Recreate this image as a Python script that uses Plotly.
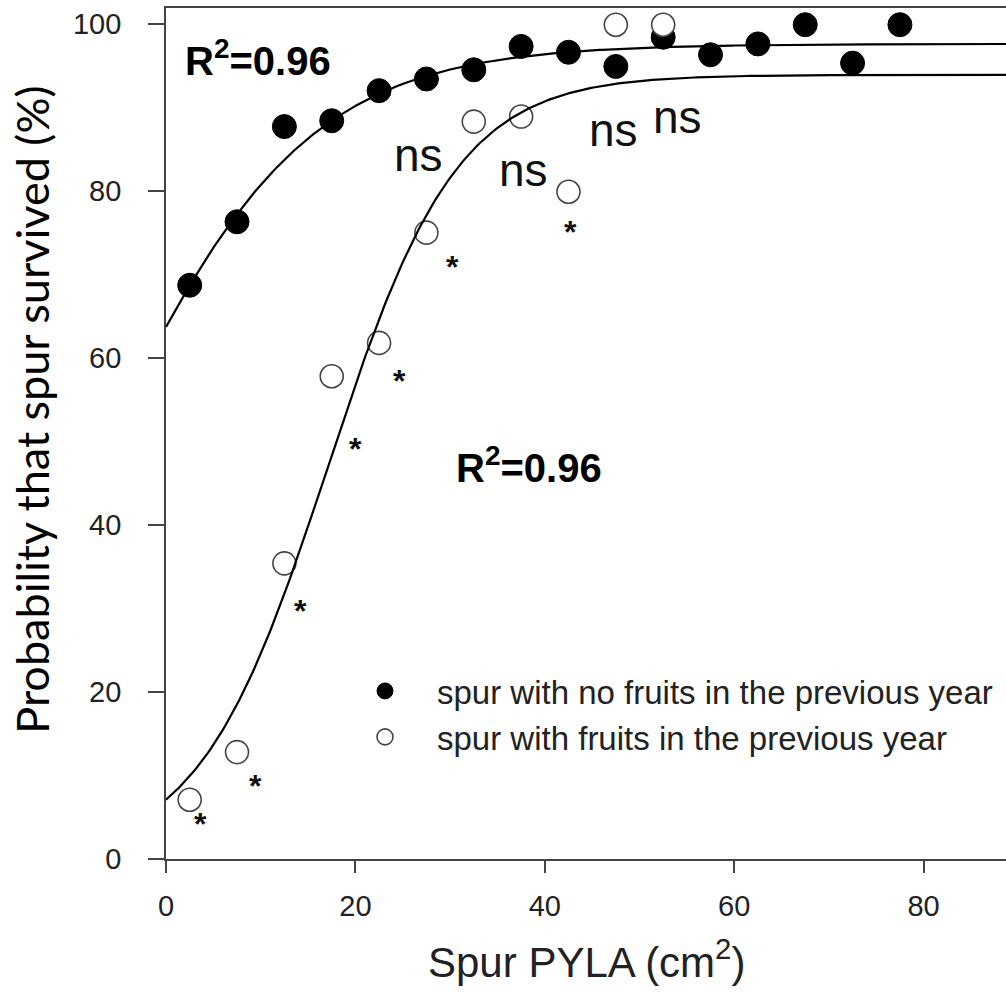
import numpy as np
import plotly.graph_objects as go

# ---- data ----
pyla_no_fruit = [2.5, 7.5, 12.5, 17.5, 22.5, 27.5, 32.5, 37.5, 42.5, 47.5, 52.5, 57.5, 62.5, 67.5, 72.5, 77.5]
surv_no_fruit = [68.7, 76.3, 87.7, 88.4, 92.0, 93.4, 94.5, 97.3, 96.6, 94.9, 98.4, 96.3, 97.6, 99.9, 95.3, 99.9]

pyla_fruit = [2.5, 7.5, 12.5, 17.5, 22.5, 27.5, 32.5, 37.5, 42.5, 47.5, 52.5]
surv_fruit = [7.1, 12.8, 35.4, 57.8, 61.8, 75.0, 88.3, 88.9, 79.9, 99.9, 99.9]

# fitted sigmoid parameters (a / (1 + exp(-(x - x0) / b)))
fit_no_fruit = dict(a=97.6, x0=-6.77, b=10.72)
fit_fruit = dict(a=93.9, x0=17.09, b=6.83)

r2_labels = ["R<sup>2</sup>=0.96", "R<sup>2</sup>=0.96"]
r2_pos = [(9.7, 95.9), (38.3, 47.2)]

sig_text = ["*", "*", "*", "*", "*", "*", "*", "ns", "ns", "ns", "ns"]
sig_pos = [(3.6, 4.7), (9.4, 9.2), (14.2, 30.2), (20.0, 49.6), (24.7, 57.7), (30.2, 71.4),
           (42.7, 75.6), (26.7, 84.3), (37.7, 82.5), (47.3, 87.3), (54.0, 88.9)]

x_ticks = [0, 20, 40, 60, 80]
y_ticks = [0, 20, 40, 60, 80, 100]
x_range = [0, 88.7]
y_range = [0, 101.9]

legend_names = ["spur with no fruits in the previous year", "spur with fruits in the previous year"]


def sigmoid(x, a, x0, b):
    return a / (1.0 + np.exp(-(x - x0) / b))


xs = np.linspace(x_range[0], x_range[1], 400)

ARIAL = "Liberation Sans"
fig = go.Figure()

fig.add_trace(go.Scatter(
    x=pyla_no_fruit, y=surv_no_fruit, mode="markers", name=legend_names[0],
    marker=dict(symbol="circle", size=24, color="black", line=dict(color="black", width=1)),
    cliponaxis=False))
fig.add_trace(go.Scatter(
    x=pyla_fruit, y=surv_fruit, mode="markers", name=legend_names[1],
    marker=dict(symbol="circle", size=23, color="white", line=dict(color="#444444", width=1.6)),
    cliponaxis=False))
fig.add_trace(go.Scatter(
    x=xs, y=sigmoid(xs, **fit_no_fruit), mode="lines", showlegend=False,
    line=dict(color="black", width=2.2)))
fig.add_trace(go.Scatter(
    x=xs, y=sigmoid(xs, **fit_fruit), mode="lines", showlegend=False,
    line=dict(color="black", width=2.2)))

annotations = []
for t, (x, y) in zip(r2_labels, r2_pos):
    annotations.append(dict(x=x, y=y, xref="x", yref="y", text="<b>" + t + "</b>", showarrow=False,
                            font=dict(family=ARIAL, size=40, color="black"),
                            xanchor="center", yanchor="middle"))
for t, (x, y) in zip(sig_text, sig_pos):
    if t == "ns":
        annotations.append(dict(x=x, y=y, xref="x", yref="y", text=t, showarrow=False,
                                font=dict(family=ARIAL, size=46, color="#111111"),
                                xanchor="center", yanchor="middle"))
    else:
        annotations.append(dict(x=x, y=y, xref="x", yref="y", text="<b>*</b>", showarrow=False,
                                font=dict(family=ARIAL, size=32, color="#111111"),
                                xanchor="center", yanchor="middle", yshift=-4))

annotations.append(dict(x=0.5, y=-0.117, xref="paper", yref="paper",
                        text="Spur PYLA (cm<sup>2</sup>)", showarrow=False,
                        font=dict(family=ARIAL, size=42, color="#222222"),
                        xanchor="center", yanchor="middle"))
annotations.append(dict(x=-0.1595, y=0.528, xref="paper", yref="paper",
                        text="Probability that spur survived (%)", showarrow=False,
                        textangle=-90,
                        font=dict(family="Lato", size=45, color="black"),
                        xanchor="center", yanchor="middle"))

fig.update_layout(
    width=1006, height=1004,
    margin=dict(l=166, r=0, t=8, b=145),
    paper_bgcolor="white", plot_bgcolor="white",
    showlegend=True,
    legend=dict(x=(333 - 166) / 840, y=(859 - 663) / 851, xanchor="left", yanchor="top",
                font=dict(family=ARIAL, size=33, color="#222222"),
                bgcolor="rgba(0,0,0,0)", itemwidth=94, tracegroupgap=0),
    annotations=annotations,
    xaxis=dict(range=x_range, tickvals=x_ticks, ticks="outside", ticklen=12, tickwidth=1.5,
               tickcolor="#444444", showline=True, linecolor="#444444", linewidth=1.8,
               mirror=True, showgrid=False, zeroline=False, ticklabelstandoff=8,
               tickfont=dict(family=ARIAL, size=29, color="#222222")),
    yaxis=dict(range=y_range, tickvals=y_ticks, ticks="outside", ticklen=16, tickwidth=1.5,
               tickcolor="#444444", showline=True, linecolor="#444444", linewidth=1.8,
               showgrid=False, zeroline=False, ticklabelstandoff=21,
               tickfont=dict(family=ARIAL, size=29, color="#222222")),
)

fig.write_html("out.html")
